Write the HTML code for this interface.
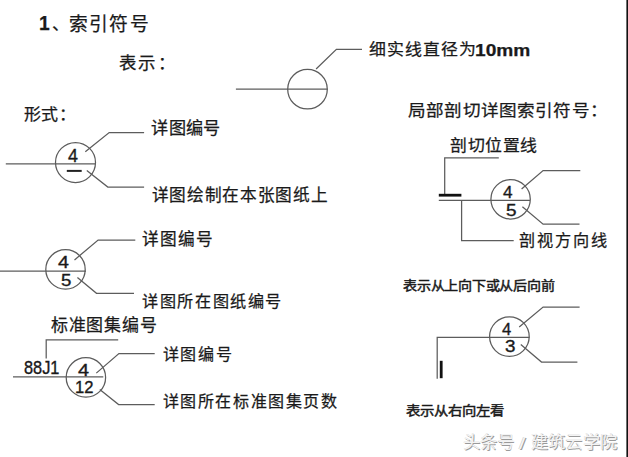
<!DOCTYPE html>
<html lang="zh-CN"><head><meta charset="utf-8">
<style>
html,body{margin:0;padding:0;background:#fff;width:628px;height:457px;overflow:hidden;}
.t{position:absolute;transform-origin:0 0;font-family:"Liberation Sans",sans-serif;line-height:1;white-space:nowrap;color:#1a1a1a;-webkit-text-stroke:0.25px #1a1a1a;}
.dg{-webkit-text-stroke:0.35px #1a1a1a;}
.bd{-webkit-text-stroke:0.1px #1a1a1a;}
.sm{-webkit-text-stroke:0.45px #1a1a1a;}
.wm{color:#f4f4f4;-webkit-text-stroke:0;text-shadow:0.7px 0.7px 0 #9a9a9a,-0.4px -0.4px 0 #c8c8c8;}
svg{position:absolute;left:0;top:0;}
</style></head><body>
<svg width="628" height="457" viewBox="0 0 628 457">
<polyline points="235.9,89.0 327.5,89.0" fill="none" stroke="#5c5c5c" stroke-width="1.25"/>
<circle cx="307.5" cy="89.2" r="19.8" fill="none" stroke="#5c5c5c" stroke-width="1.25"/>
<polyline points="316.1,69.0 336.4,49.4 362,49.4" fill="none" stroke="#5c5c5c" stroke-width="1.25"/>
<polyline points="5.8,163.8 95.6,163.8" fill="none" stroke="#5c5c5c" stroke-width="1.25"/>
<circle cx="75.5" cy="162.5" r="20" fill="none" stroke="#5c5c5c" stroke-width="1.25"/>
<polyline points="85.3,151.8 109.2,132.6 144.1,132.6" fill="none" stroke="#5c5c5c" stroke-width="1.25"/>
<polyline points="86.8,170.5 107.8,187.1 144.1,187.1" fill="none" stroke="#5c5c5c" stroke-width="1.25"/>
<polyline points="66.8,170.9 81.7,170.9" fill="none" stroke="#222" stroke-width="2.0"/>
<polyline points="0,271.1 86.0,271.1" fill="none" stroke="#5c5c5c" stroke-width="1.25"/>
<circle cx="65.5" cy="269.4" r="19.7" fill="none" stroke="#5c5c5c" stroke-width="1.25"/>
<polyline points="74.5,259.9 98.1,240.0 135.3,240.0" fill="none" stroke="#5c5c5c" stroke-width="1.25"/>
<polyline points="77.4,277.4 96.5,293.3 134.0,293.3" fill="none" stroke="#5c5c5c" stroke-width="1.25"/>
<polyline points="46.2,358.4 46.2,339.8 118.2,339.8" fill="none" stroke="#5c5c5c" stroke-width="1.25"/>
<polyline points="13,376.9 103.3,376.9" fill="none" stroke="#5c5c5c" stroke-width="1.25"/>
<circle cx="85.9" cy="377.4" r="19.7" fill="none" stroke="#5c5c5c" stroke-width="1.25"/>
<polyline points="96.3,373.1 118.9,353.5 154.7,353.5" fill="none" stroke="#5c5c5c" stroke-width="1.25"/>
<polyline points="99.8,389.4 118.6,404.5 154.7,404.5" fill="none" stroke="#5c5c5c" stroke-width="1.25"/>
<polyline points="444.7,195 444.7,157.8 498.8,157.8" fill="none" stroke="#5c5c5c" stroke-width="1.25"/>
<polyline points="438.8,195.2 461.4,195.2" fill="none" stroke="#111" stroke-width="2.8"/>
<polyline points="438.8,200.4 530.0,200.4" fill="none" stroke="#5c5c5c" stroke-width="1.25"/>
<polyline points="461.6,200.4 461.6,240.5 513.7,240.5" fill="none" stroke="#5c5c5c" stroke-width="1.25"/>
<circle cx="510.6" cy="199.3" r="19.7" fill="none" stroke="#5c5c5c" stroke-width="1.25"/>
<polyline points="521.6,189.0 543.1,170.6 580.3,170.6" fill="none" stroke="#5c5c5c" stroke-width="1.25"/>
<polyline points="522.4,206.7 543.1,224.2 579.5,224.2" fill="none" stroke="#5c5c5c" stroke-width="1.25"/>
<polyline points="437.2,378.8 437.2,337.3 529.5,337.3" fill="none" stroke="#5c5c5c" stroke-width="1.25"/>
<polyline points="441.2,360.8 441.2,378.2" fill="none" stroke="#111" stroke-width="2.8"/>
<circle cx="509.4" cy="336.6" r="19.8" fill="none" stroke="#5c5c5c" stroke-width="1.25"/>
<polyline points="519.2,327.1 543.1,307.1 579.6,307.1" fill="none" stroke="#5c5c5c" stroke-width="1.25"/>
<polyline points="520.8,344.6 541.5,362.0 577.4,362.0" fill="none" stroke="#5c5c5c" stroke-width="1.25"/>
<rect x="626.4" y="0" width="1.6" height="457" fill="#111"/>
</svg>
<div class="t" style="left:38.54px;top:13.0px;font-size:20.29px;font-weight:700;transform:scaleX(0.947);">1</div>
<div class="t" style="left:52.02px;top:15.85px;font-size:17.43px;font-weight:500;">、</div>
<div class="t" style="left:69.27px;top:15.82px;font-size:18.77px;font-weight:500;letter-spacing:1.08px;">索引符号</div>
<div class="t" style="left:118.73px;top:55.41px;font-size:17.44px;font-weight:500;letter-spacing:2.4px;">表示：</div>
<div class="t" style="left:368.73px;top:42.44px;font-size:15.36px;font-weight:500;letter-spacing:1.44px;transform:scaleX(1.1);">细实线直径为</div>
<div class="t" style="left:475.38px;top:42.98px;font-size:15.73px;font-weight:700;transform:scaleX(1.218);">10mm</div>
<div class="t" style="left:24.11px;top:106.42px;font-size:16.22px;font-weight:500;letter-spacing:0.51px;transform:scaleX(1.05);">形式：</div>
<div class="t" style="left:151.47px;top:120.24px;font-size:17.17px;font-weight:500;letter-spacing:0.28px;">详图编号</div>
<div class="t" style="left:151.69px;top:188.07px;font-size:16.64px;font-weight:500;letter-spacing:0.66px;">详图绘制在本张图纸上</div>
<div class="t" style="left:142.27px;top:232.41px;font-size:16.64px;font-weight:500;letter-spacing:0.85px;">详图编号</div>
<div class="t" style="left:142.27px;top:293.01px;font-size:16.11px;font-weight:500;letter-spacing:1.58px;">详图所在图纸编号</div>
<div class="t" style="left:50.78px;top:317.88px;font-size:16.96px;font-weight:500;letter-spacing:0.75px;">标准图集编号</div>
<div class="t dg" style="left:24.15px;top:359.94px;font-size:17.88px;font-weight:400;transform:scaleX(0.915);">88J1</div>
<div class="t" style="left:162.57px;top:346.64px;font-size:16.0px;font-weight:500;letter-spacing:1.85px;">详图编号</div>
<div class="t" style="left:162.69px;top:393.56px;font-size:16.0px;font-weight:500;letter-spacing:1.57px;">详图所在标准图集页数</div>
<div class="t" style="left:407.73px;top:103.34px;font-size:16.0px;font-weight:500;letter-spacing:0.52px;transform:scaleX(1.1);">局部剖切详图索引符号：</div>
<div class="t" style="left:450.49px;top:137.49px;font-size:16.11px;font-weight:500;letter-spacing:0.76px;transform:scaleX(1.05);">剖切位置线</div>
<div class="t" style="left:519.07px;top:232.49px;font-size:16.16px;font-weight:500;letter-spacing:1.99px;">剖视方向线</div>
<div class="t sm" style="left:403.47px;top:279.7px;font-size:12.8px;font-weight:500;letter-spacing:-0.47px;transform:scaleX(1.1);">表示从上向下或从后向前</div>
<div class="t sm" style="left:405.95px;top:403.94px;font-size:13.07px;font-weight:500;letter-spacing:-0.26px;transform:scaleX(1.1);">表示从右向左看</div>
<div class="t wm" style="left:462.78px;top:434.18px;font-size:17.49px;font-weight:200;letter-spacing:0.73px;transform:scaleX(0.98);">头条号</div>
<div class="t wm" style="left:518.52px;top:436.36px;font-size:16.55px;font-weight:200;transform:scaleX(1.422);">/</div>
<div class="t wm" style="left:531.39px;top:434.18px;font-size:17.49px;font-weight:200;letter-spacing:0.67px;transform:scaleX(0.98);">建筑云学院</div>
<div class="t dg" style="left:67.79px;top:147.01px;font-size:18.04px;font-weight:400;transform:scaleX(0.989);">4</div>
<div class="t dg" style="left:58.03px;top:253.54px;font-size:17.38px;font-weight:400;transform:scaleX(1.131);">4</div>
<div class="t dg" style="left:61.21px;top:271.95px;font-size:16.43px;font-weight:400;transform:scaleX(1.135);">5</div>
<div class="t dg" style="left:78.05px;top:361.54px;font-size:17.38px;font-weight:400;transform:scaleX(1.143);">4</div>
<div class="t dg" style="left:75.29px;top:379.77px;font-size:16.86px;font-weight:400;transform:scaleX(0.985);">12</div>
<div class="t dg" style="left:503.43px;top:183.82px;font-size:16.08px;font-weight:400;transform:scaleX(1.067);">4</div>
<div class="t dg" style="left:506.18px;top:201.84px;font-size:16.15px;font-weight:400;transform:scaleX(1.173);">5</div>
<div class="t dg" style="left:502.26px;top:321.46px;font-size:16.08px;font-weight:400;transform:scaleX(1.03);">4</div>
<div class="t dg" style="left:505.09px;top:339.22px;font-size:16.63px;font-weight:400;transform:scaleX(1.135);">3</div>
</body></html>
